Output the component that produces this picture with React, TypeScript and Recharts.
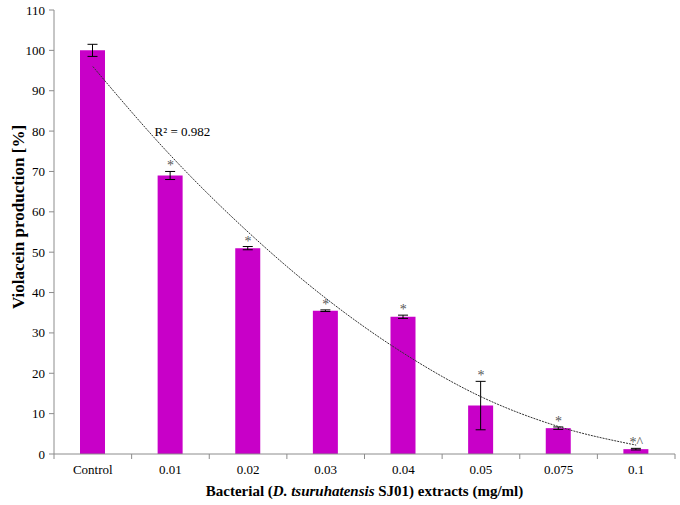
import React from "react";
import { ComposedChart, Bar, Line, XAxis, YAxis, ErrorBar, LabelList, Label } from "recharts";

const categories = ["Control", "0.01", "0.02", "0.03", "0.04", "0.05", "0.075", "0.1"];
const violacein = [100, 69, 51, 35.5, 34, 12, 6.4, 1.2];
const errors = [1.5, 1, 0.4, 0.2, 0.4, 6, 0.3, 0.2];
const marks = ["", "*", "*", "*", "*", "*", "*", "*^"];
// polynomial trendline
const trend = [96, 74, 55, 38.6, 25, 14.2, 6.8, 2.2];
const yTicks = [0, 10, 20, 30, 40, 50, 60, 70, 80, 90, 100, 110];

const data = categories.map((name, i) => ({
  name,
  value: violacein[i],
  err: errors[i],
  top: violacein[i] + errors[i],
  mark: marks[i],
  trend: trend[i],
}));

const W = 680;
const H = 505;
const M = { top: 10, right: 5, bottom: 0, left: 0 };
const Y_W = 54;
const X_H = 51;
const STEP = (W - M.left - M.right - Y_W) / categories.length;
const FONT = "Liberation Serif";
const AXIS = "#8c8c8c";
const serif = { fontFamily: FONT };

function XTick(props: any) {
  const { x, y, payload, index } = props;
  const half = STEP / 2;
  return (
    <g>
      <line x1={x - half} x2={x - half} y1={y - 8} y2={y - 3} stroke={AXIS} />
      {index === categories.length - 1 && (
        <line x1={x + half} x2={x + half} y1={y - 8} y2={y - 3} stroke={AXIS} />
      )}
      <text x={x} y={y + 12} textAnchor="middle" fontSize={13} style={serif} fill="#000">
        {payload.value}
      </text>
    </g>
  );
}

function YTick(props: any) {
  const { x, y, payload } = props;
  return (
    <text x={x - 2} y={y + 4.5} textAnchor="end" fontSize={13} style={serif} fill="#000">
      {payload.value}
    </text>
  );
}

function StarLabel(props: any) {
  const { x, y, index } = props;
  const m = marks[index];
  if (!m) return null;
  return (
    <text x={x} y={y - 1} textAnchor="middle" fontSize={14} style={serif} fill="#555">
      {m}
    </text>
  );
}

function R2Label(props: any) {
  const { x, y, index } = props;
  if (index !== 1) return null;
  return (
    <text x={x + 12} y={y - 19} textAnchor="middle" fontSize={13} style={serif} fill="#000">
      R² = 0.982
    </text>
  );
}

export default function App() {
  return (
    <div style={{ position: "absolute", left: 0, top: 0, background: "#fff" }}>
      <ComposedChart width={W} height={H} data={data} margin={M} barCategoryGap={0}>
        <XAxis
          dataKey="name"
          stroke={AXIS}
          tickLine={false}
          height={X_H}
          tick={<XTick />}
          interval={0}
        >
          <Label
            content={(p: any) => {
              const vb = p.viewBox;
              return (
                <text
                  x={vb.x + vb.width / 2}
                  y={vb.y + 42}
                  textAnchor="middle"
                  fontSize={15}
                  fontWeight="bold"
                  style={serif}
                  fill="#000"
                >
                  Bacterial (<tspan fontStyle="italic">D. tsuruhatensis</tspan> SJ01) extracts (mg/ml)
                </text>
              );
            }}
          />
        </XAxis>
        <YAxis
          domain={[0, 110]}
          ticks={yTicks}
          interval={0}
          width={Y_W}
          stroke={AXIS}
          tickSize={5}
          tick={<YTick />}
        >
          <Label
            content={() => {
              const cx = 18;
              const cy = 217;
              return (
                <text
                  x={cx}
                  y={cy}
                  transform={`rotate(-90 ${cx} ${cy})`}
                  textAnchor="middle"
                  dominantBaseline="central"
                  fontSize={17}
                  fontWeight="bold"
                  style={serif}
                  fill="#000"
                >
                  Violacein production [%]
                </text>
              );
            }}
          />
        </YAxis>
        <Bar dataKey="value" fill="#C800C8" barSize={25} isAnimationActive={false}>
          <ErrorBar dataKey="err" width={5} stroke="#000" strokeWidth={1} />
        </Bar>
        <Line
          dataKey="trend"
          type="monotone"
          stroke="#333"
          strokeWidth={1}
          strokeDasharray="2 1"
          dot={false}
          isAnimationActive={false}
        >
          <LabelList dataKey="trend" content={<R2Label />} />
        </Line>
        <Line dataKey="top" stroke="none" dot={false} activeDot={false} isAnimationActive={false}>
          <LabelList dataKey="mark" content={<StarLabel />} />
        </Line>
      </ComposedChart>
    </div>
  );
}
